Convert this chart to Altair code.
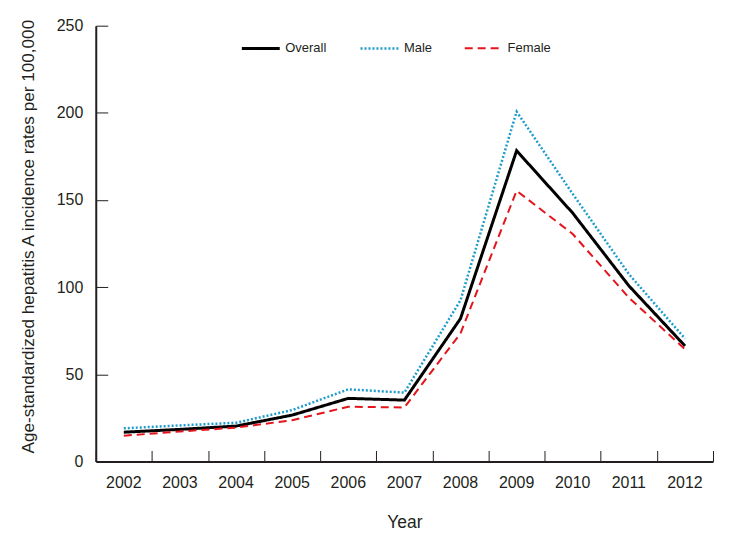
import altair as alt
import pandas as pd

years = [2002, 2003, 2004, 2005, 2006, 2007, 2008, 2009, 2010, 2011, 2012]
overall = [16.8, 18.4, 20.3, 26.6, 36.2, 35.2, 82.0, 178.3, 142.5, 100.8, 66.3]
male = [19.0, 20.7, 22.2, 29.5, 41.4, 39.5, 92.5, 200.7, 153.5, 107.5, 70.5]
female = [14.8, 17.2, 19.4, 23.7, 31.4, 31.0, 73.5, 155.3, 130.5, 94.0, 64.4]

series_names = ["Overall", "Male", "Female"]
series_colors = ["#000000", "#1f9ccc", "#e3141b"]
series_dash = [[1, 0], [2, 2], [8, 5]]
series_width = [3, 2, 2.5]

rows = []
for name, vals in zip(series_names, [overall, male, female]):
    for yr, v in zip(years, vals):
        rows.append({"Year": str(yr), "series": name, "value": v})
df = pd.DataFrame(rows)

W, H = 619, 437
FONT = "Liberation Sans, Arial, Helvetica, sans-serif"
TXT = "#231f20"

xscale = alt.Scale(type="band", paddingInner=0, paddingOuter=0)
yscale = alt.Scale(domain=[0, 250], nice=False)

# main axes: labels, titles, domain lines (no ticks)
x_axis = alt.Axis(
    orient="bottom", title="Year", ticks=False, labelPadding=13,
    labelFontSize=16, labelFont=FONT, labelColor=TXT, labelAngle=0,
    titleFontSize=17.5, titleFont=FONT, titleColor=TXT, titleFontWeight="normal",
    titleBaseline="alphabetic", titleY=66,
    domainColor=TXT, domainWidth=2,
)
y_axis = alt.Axis(
    orient="left",
    title="Age-standardized hepatitis A incidence rates per 100,000",
    values=[0, 50, 100, 150, 200, 250], ticks=False, labelPadding=13,
    labelFontSize=16, labelFont=FONT, labelColor=TXT,
    titleFontSize=17.2, titleFont=FONT, titleColor=TXT, titleFontWeight="normal",
    titleBaseline="alphabetic", titleX=-62, titleY=211, titleAngle=270,
    domainColor=TXT, domainWidth=2, grid=False,
)
# inward-pointing tick axes (opposite orient moved onto the plot edge)
x_tick_axis = alt.Axis(
    orient="top", offset=-H, title=None, labels=False, domain=False,
    tickBand="extent", tickSize=11, tickColor=TXT, tickWidth=1, grid=False,
)
y_tick_axis = alt.Axis(
    orient="right", offset=-W, title=None, labels=False, domain=False,
    values=[50, 100, 150, 200, 250], tickSize=12, tickColor=TXT, tickWidth=1, grid=False,
)

legend = alt.Legend(
    title=None, orient="none", direction="horizontal", legendX=145, legendY=2,
    padding=0, columnPadding=28, labelOffset=4, symbolType="stroke",
    symbolSize=1444, labelFontSize=13, labelFont=FONT, labelColor=TXT,
)

base = alt.Chart(df)

lines = base.mark_line(strokeCap="butt", strokeJoin="miter").encode(
    x=alt.X("Year:O", bandPosition=0.5, scale=xscale, axis=x_axis),
    y=alt.Y("value:Q", scale=yscale, axis=y_axis),
    color=alt.Color("series:N", scale=alt.Scale(domain=series_names, range=series_colors), legend=legend),
    strokeDash=alt.StrokeDash("series:N", scale=alt.Scale(domain=series_names, range=series_dash), legend=legend),
    strokeWidth=alt.StrokeWidth("series:N", scale=alt.Scale(domain=series_names, range=series_width), legend=legend),
    order=alt.Order("Year:O"),
)

ticks_layer = base.mark_point(opacity=0).encode(
    x=alt.X("Year:O", bandPosition=0.5, scale=xscale, axis=x_tick_axis),
    y=alt.Y("value:Q", scale=yscale, axis=y_tick_axis),
)

chart = alt.layer(lines, ticks_layer).properties(
    width=W, height=H,
    autosize=alt.AutoSizeParams(type="none"),
    padding={"left": 88, "top": 17, "right": 10, "bottom": 78},
).configure_view(stroke=None)

chart.save("out.html", embed_options={"renderer": "svg", "actions": False})
